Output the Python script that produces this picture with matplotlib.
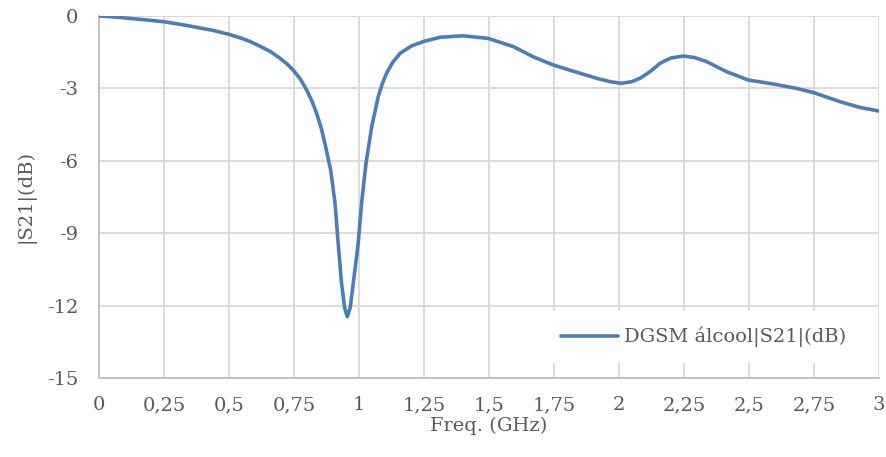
import numpy as np
import matplotlib.pyplot as plt
from matplotlib.ticker import FuncFormatter

# |S21| do DGSM com álcool
freq = [0, 0.06, 0.119, 0.18, 0.25, 0.31, 0.376, 0.44, 0.5, 0.542, 0.58,
        0.619, 0.66, 0.696, 0.725, 0.75, 0.775, 0.799, 0.82, 0.837, 0.855,
        0.869, 0.891, 0.908, 0.920, 0.933, 0.945, 0.955, 0.966, 0.978, 0.997,
        1.010, 1.027, 1.049, 1.074, 1.09, 1.106, 1.13, 1.158, 1.200, 1.247,
        1.312, 1.401, 1.497, 1.594, 1.670, 1.747, 1.837, 1.927, 1.970, 2.010,
        2.050, 2.081, 2.119, 2.158, 2.200, 2.247, 2.290, 2.337, 2.414, 2.497,
        2.594, 2.683, 2.750, 2.850, 2.927, 3.0]
s21 = [0, -0.04, -0.1, -0.16, -0.24, -0.34, -0.47, -0.6, -0.76, -0.9, -1.05,
       -1.25, -1.48, -1.75, -2.0, -2.28, -2.62, -3.07, -3.55, -4.03, -4.65,
       -5.28, -6.38, -7.76, -9.42, -11.08, -12.1, -12.46, -12.1, -11.08, -9.42,
       -7.76, -6.1, -4.59, -3.34, -2.8, -2.37, -1.92, -1.55, -1.25, -1.06,
       -0.88, -0.82, -0.93, -1.27, -1.69, -2.03, -2.33, -2.62, -2.73, -2.79,
       -2.72, -2.58, -2.31, -1.96, -1.74, -1.66, -1.72, -1.89, -2.31, -2.65,
       -2.82, -3.0, -3.18, -3.55, -3.79, -3.94]
xticks = [0, 0.25, 0.5, 0.75, 1, 1.25, 1.5, 1.75, 2, 2.25, 2.5, 2.75, 3]
yticks = [0, -3, -6, -9, -12, -15]

plt.rcParams['font.family'] = ['DejaVu Serif']
grey = '#595959'

fig = plt.figure(figsize=(8.86, 4.57), dpi=100)
ax = fig.add_axes([0.1117, 0.1729, 0.8804, 0.7921])

ax.plot(freq, s21, color='#4a7ebb', linewidth=2.6, label='DGSM álcool|S21|(dB)',
        solid_capstyle='round', solid_joinstyle='round', zorder=3)

ax.set_xlim(0, 3)
ax.set_ylim(-15, 0)
ax.set_xticks(xticks)
ax.set_yticks(yticks)
ax.xaxis.set_major_formatter(FuncFormatter(lambda v, p: ('%g' % v).replace('.', ',')))
ax.yaxis.set_major_formatter(FuncFormatter(lambda v, p: '%g' % v))
ax.tick_params(length=0, labelsize=14, labelcolor=grey)
ax.tick_params(axis='x', pad=13)
ax.tick_params(axis='y', pad=15)
ax.grid(color='#d9d9d9', linewidth=1.3)
ax.set_axisbelow(True)
for s in ax.spines.values():
    s.set_visible(False)
for side in ['left', 'bottom']:
    ax.spines[side].set_visible(True)
    ax.spines[side].set_color('#bfbfbf')
    ax.spines[side].set_linewidth(1.3)

ax.set_xlabel('Freq. (GHz)', fontsize=14, color=grey, labelpad=2)
ax.set_ylabel('|S21|(dB)', fontsize=14, color=grey, labelpad=8)

leg = ax.legend(loc='center', bbox_to_anchor=(0.775, 0.113), frameon=True,
                fontsize=14, handlelength=2.9, handletextpad=0.3,
                borderpad=0.8, fancybox=False)
leg.get_frame().set_edgecolor('none')
leg.get_frame().set_facecolor('white')
leg.get_frame().set_alpha(1)
for t in leg.get_texts():
    t.set_color(grey)

plt.savefig('out.png', dpi=100)
